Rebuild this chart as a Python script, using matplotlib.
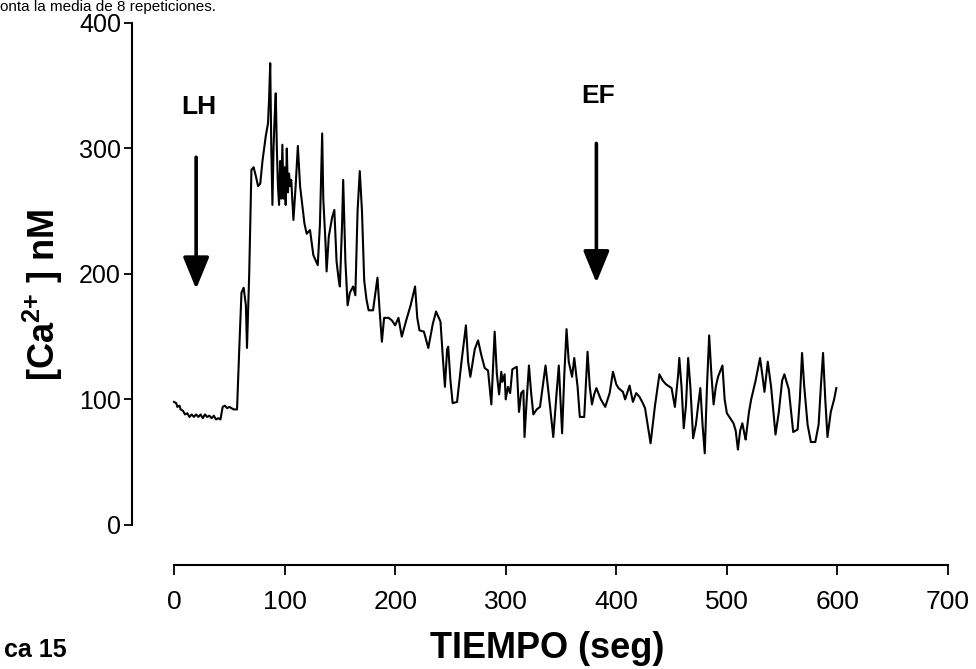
import matplotlib
matplotlib.use("Agg")
import matplotlib.pyplot as plt
from matplotlib import font_manager

# ---- data ----
tiempo = [0, 2, 3, 5, 6, 8, 10, 12, 14, 16, 18, 20, 22, 24, 26, 28, 30, 32, 34, 36, 38, 40, 42, 44, 46, 48, 50, 54, 57,
          59, 61, 63, 65, 66, 68, 70, 72, 74, 76, 78, 80, 83, 85, 86, 87, 88, 89, 90, 91, 92, 93, 94, 95, 96, 97, 98, 99,
          100, 101, 102, 103, 104, 105, 106, 108, 110, 112, 114, 116, 118, 120, 123, 126, 130, 132, 134, 135, 137, 138,
          140, 143, 145, 147, 149, 150, 152, 153, 155, 157, 159, 162, 164, 166, 168, 170, 172, 174, 176, 180, 184, 186,
          188, 190, 194, 197, 200, 203, 206, 210, 214, 218, 220, 222, 226, 230, 234, 237, 241, 243, 245, 247, 248, 250,
          252, 256, 260, 264, 266, 268, 272, 275, 278, 281, 284, 287, 290, 292, 294, 296, 297, 299, 300, 302, 304, 306,
          310, 312, 314, 316, 317, 319, 321, 323, 325, 328, 331, 336, 340, 343, 346, 348, 350, 351, 353, 355, 357, 360,
          362, 365, 367, 371, 374, 376, 378, 380, 382, 386, 390, 394, 397, 400, 402, 406, 408, 412, 415, 418, 421, 424,
          426, 431, 435, 439, 442, 445, 450, 453, 456, 457, 459, 461, 463, 465, 467, 469.5, 472, 474, 476, 478, 480, 482,
          484, 486, 488, 490, 492, 496, 498, 500, 503, 506, 508, 510, 512, 514, 516, 517, 520, 522, 526, 530, 532, 534,
          537, 540, 544, 547, 550, 552, 556, 560, 564, 566, 568, 570, 573, 576, 580, 583, 585, 587, 589, 591, 594, 597, 599]
calcio = [98, 97, 94, 95, 92, 91, 88, 89, 86, 88, 86, 88, 86, 88, 85, 88, 86, 87, 85, 87, 84, 85, 84, 94, 95, 93, 94, 92, 92,
          140, 185, 189, 175, 141, 200, 283, 285, 278, 270, 272, 290, 310, 320, 340, 368, 300, 255, 300, 325, 344, 300, 270,
          255, 290, 260, 303, 260, 285, 255, 300, 265, 280, 270, 275, 243, 270, 302, 270, 255, 240, 232, 235, 215, 207, 240,
          312, 260, 225, 202, 230, 245, 251, 210, 195, 190, 240, 275, 210, 175, 185, 190, 183, 250, 282, 250, 195, 180, 171,
          171, 197, 170, 146, 165, 165, 163, 159, 165, 150, 163, 175, 190, 165, 155, 154, 141, 160, 170, 162, 135, 110, 140,
          142, 115, 97, 98, 130, 159, 130, 118, 140, 147, 135, 125, 123, 96, 154, 120, 104, 122, 114, 120, 100, 110, 105, 124,
          126, 90, 105, 107, 70, 100, 127, 105, 88, 92, 94, 127, 95, 70, 105, 127, 90, 73, 120, 156, 130, 118, 133, 110, 86,
          86, 138, 110, 96, 104, 109, 100, 94, 105, 122, 112, 109, 106, 100, 111, 98, 105, 102, 97, 93, 65, 95, 120, 115,
          112, 109, 94, 120, 133, 110, 77, 95, 133, 110, 69, 80, 95, 109, 80, 57, 110, 151, 120, 96, 110, 118, 127, 100, 89,
          85, 81, 75, 60, 75, 81, 72, 68, 90, 100, 115, 133, 120, 106, 130, 110, 72, 90, 115, 120, 108, 74, 76, 100, 137, 110,
          80, 66, 66, 80, 110, 137, 100, 70, 90, 100, 109]
x_ticks = [0, 100, 200, 300, 400, 500, 600, 700]
y_ticks = [0, 100, 200, 300, 400]
eventos = ["LH", "EF"]
eventos_t = [20, 382]

avail = {f.name for f in font_manager.fontManager.ttflist}
narrow = "Liberation Sans Narrow" if "Liberation Sans Narrow" in avail else "Liberation Sans"
plt.rcParams['font.family'] = ['Liberation Sans', 'DejaVu Sans']
plt.rcParams['mathtext.fontset'] = 'custom'
plt.rcParams['mathtext.rm'] = 'Liberation Sans:bold'
plt.rcParams['mathtext.bf'] = 'Liberation Sans:bold'

W, H = 976, 669
fig = plt.figure(figsize=(W / 100, H / 100), dpi=100)
left, right = 132 / W, 948 / W
bottom, top = 1 - 565 / H, 1 - 23 / H
ax = fig.add_axes([left, bottom, right - left, top - bottom])
ax.set_xlim(-38, 700)
ax.set_ylim(-32, 400)

ax.plot(tiempo, calcio, color='black', lw=1.5)

for s in ['top', 'right']:
    ax.spines[s].set_visible(False)
ax.spines['left'].set_bounds(0, 400)
ax.spines['bottom'].set_bounds(0, 700)
ax.spines['left'].set_linewidth(1.5)
ax.spines['bottom'].set_linewidth(1.5)

ax.set_yticks(y_ticks)
ax.set_yticklabels([str(v) for v in y_ticks], fontsize=18)
ax.set_xticks(x_ticks)
ax.set_xticklabels([str(v) for v in x_ticks], fontsize=19, family=narrow)
ax.tick_params(axis='y', direction='out', length=6, width=1.3, pad=2)
ax.tick_params(axis='x', direction='out', length=7, width=1.3, pad=11)

fig.text(43 / W, 1 - 295 / H, r"[Ca$^{2{+}}$ ] nM", fontsize=26, fontweight='bold',
         rotation=90, ha='center', va='center')
fig.text(547 / W, 1 - 648 / H, "TIEMPO (seg)", fontsize=26, fontweight='bold', family=narrow,
         ha='center', va='center')

# event arrows
arrow_tops = [293, 304]
arrow_tips = [188, 193]
label_y = [333, 342]
for name, t, yt, yh, ly in zip(eventos, eventos_t, arrow_tops, arrow_tips, label_y):
    ax.annotate("", xy=(t, yh), xytext=(t, yt),
                arrowprops=dict(arrowstyle="-|>,head_length=1.95,head_width=0.8", color='black', lw=2.6,
                                shrinkA=0, shrinkB=0))
    ax.text(t + 2, ly, name, fontsize=19, fontweight='bold', ha='center', va='center')

fig.text(0.0, 1.0, "onta la media de 8 repeticiones.", fontsize=11, ha='left', va='top')
fig.text(4 / W, 1 - 650 / H, "ca 15", fontsize=18, fontweight='bold', family=narrow, ha='left', va='center')

fig.savefig("out.png", dpi=100)
